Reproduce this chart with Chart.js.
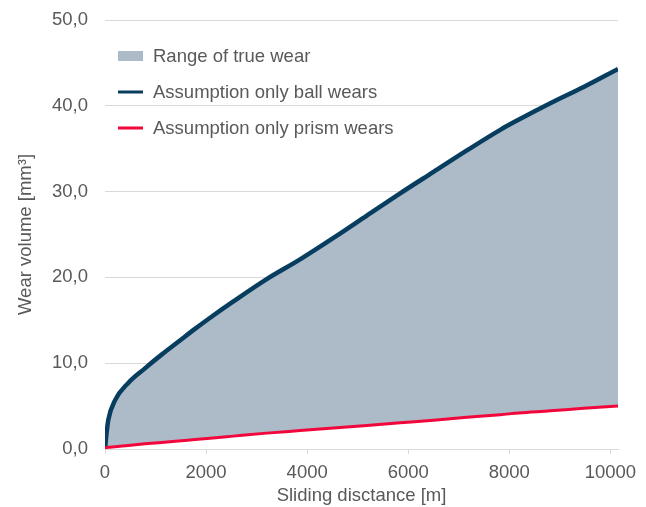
<!DOCTYPE html>
<html>
<head>
<meta charset="utf-8">
<script src="https://cdn.jsdelivr.net/npm/chart.js@4/dist/chart.umd.min.js"></script>
<style>
  html, body { margin: 0; padding: 0; background: #fff; }
  #wrap { width: 646px; height: 507px; }
</style>
</head>
<body>
<div id="wrap"><canvas id="myChart"></canvas></div>
<script>
// sliding distance [m]
const distance = [0, 30, 65, 200, 460, 790, 1120, 1450, 1780, 2080, 2540, 3200, 3860, 4520, 5180, 5840, 6500, 7160, 7820, 8190, 8810, 9470, 10150];
// wear volume [mm³] if only the ball wears
const ballWear = [0, 1.8, 3.4, 5.7, 7.7, 9.4, 11.0, 12.5, 14.0, 15.3, 17.2, 19.8, 22.1, 24.6, 27.2, 29.8, 32.3, 34.8, 37.2, 38.4, 40.3, 42.2, 44.3];
// wear volume [mm³] if only the prism wears
const prismWear = [0.15, 0.17, 0.2, 0.27, 0.42, 0.6, 0.77, 0.93, 1.1, 1.25, 1.5, 1.85, 2.15, 2.45, 2.75, 3.05, 3.35, 3.7, 4.0, 4.2, 4.45, 4.75, 5.0];
const xTicks = [0, 2000, 4000, 6000, 8000, 10000];
const yTicks = [0, 10, 20, 30, 40, 50];

const labels = ['Range of true wear', 'Assumption only ball wears', 'Assumption only prism wears'];
const colBall = '#073d5f';
const colPrism = '#f2073c';
const colRange = '#adbac8';
const textCol = '#595959';
const font = '"Liberation Sans", Arial, sans-serif';
const fs = 18.5;

function pts(ys) {
  return distance.map((d, i) => ({ x: d, y: ys[i] }));
}

// simple legend in the top-left of the plot
const legendPlugin = {
  id: 'insideLegend',
  afterDatasetsDraw(chart) {
    const c = chart.ctx;
    const x0 = 118, y0 = 56, gap = 36;
    c.save();
    c.font = fs + 'px ' + font;
    c.textBaseline = 'middle';
    labels.forEach((t, i) => {
      const y = y0 + i * gap;
      if (i === 0) {
        c.fillStyle = colRange;
        c.fillRect(x0, y - 5, 25, 10);
      } else {
        c.strokeStyle = i === 1 ? colBall : colPrism;
        c.lineWidth = 3;
        c.beginPath();
        c.moveTo(x0, y);
        c.lineTo(x0 + 25, y);
        c.stroke();
      }
      c.fillStyle = textCol;
      c.fillText(t, 153, y + 1);
    });
    c.restore();
  }
};

document.addEventListener('DOMContentLoaded', function() {
  if (typeof Chart === 'undefined') {
    console.error('Chart.js is not loaded');
    return;
  }
  const ctx = document.getElementById('myChart');
  new Chart(ctx, {
    type: 'line',
    data: {
      datasets: [{
        label: labels[2],
        data: pts(prismWear),
        borderColor: colPrism,
        borderWidth: 3,
        pointRadius: 0,
        fill: false,
        cubicInterpolationMode: 'monotone'
      }, {
        label: labels[1],
        data: pts(ballWear),
        borderColor: colBall,
        borderWidth: 4.5,
        pointRadius: 0,
        backgroundColor: colRange,
        fill: '-1',
        cubicInterpolationMode: 'monotone'
      }]
    },
    options: {
      responsive: true,
      maintainAspectRatio: false,
      animation: false,
      layout: { padding: { top: 20, right: 28, bottom: 0, left: 15 } },
      plugins: {
        legend: { display: false },
        tooltip: { enabled: false }
      },
      scales: {
        x: {
          type: 'linear',
          min: 0,
          max: 10150,
          afterBuildTicks(scale) {
            scale.ticks = xTicks.map(v => ({ value: v }));
          },
          afterFit(scale) { scale.height = 58; },
          grid: { display: true, drawOnChartArea: false, drawTicks: true, tickLength: 5, color: '#d9d9d9' },
          border: { display: true, color: '#d9d9d9', width: 1 },
          ticks: { color: textCol, font: { family: font, size: fs }, padding: 8, maxRotation: 0, callback: v => String(v) },
          title: { display: true, text: 'Sliding disctance [m]', color: textCol, font: { family: font, size: fs }, padding: { top: 1, bottom: 0 } }
        },
        y: {
          min: 0,
          max: 50,
          afterBuildTicks(scale) {
            scale.ticks = yTicks.map(v => ({ value: v }));
          },
          afterFit(scale) {
            scale.width = 90;
            scale.paddingTop = 0;
            scale.paddingBottom = 0;
          },
          grid: { color: '#d9d9d9', drawTicks: false },
          border: { display: false },
          ticks: {
            color: textCol,
            font: { family: font, size: fs },
            padding: 17,
            callback: v => v.toFixed(1).replace('.', ',')
          },
          title: { display: true, text: 'Wear volume [mm³]', color: textCol, font: { family: font, size: fs }, padding: { top: 0, bottom: 6 } }
        }
      }
    },
    plugins: [legendPlugin]
  });
});
</script>
</body>
</html>
